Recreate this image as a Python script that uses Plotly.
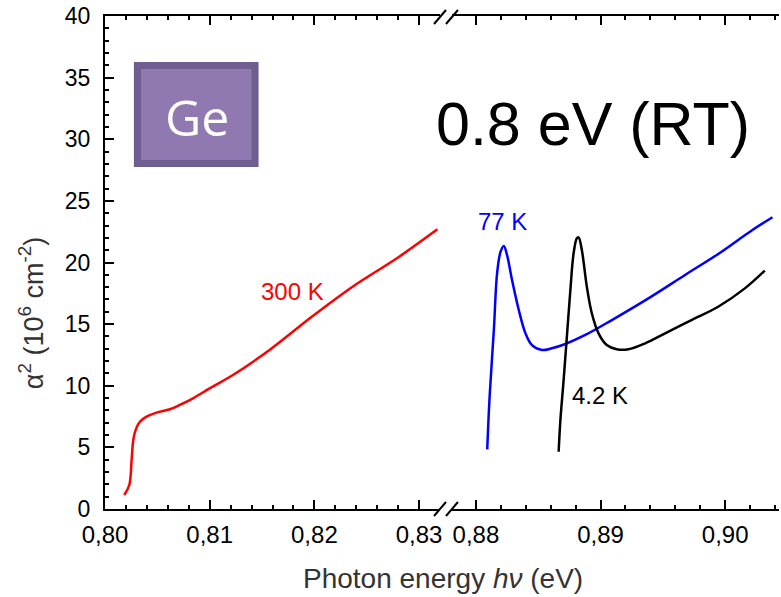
import plotly.graph_objects as go

# ---- data ----
x_300K = [0.80184, 0.80232, 0.80254, 0.80270, 0.80292, 0.80333, 0.80397, 0.80492,
          0.80619, 0.80714, 0.80841, 0.81000, 0.81222, 0.81571, 0.81984, 0.82365,
          0.82810, 0.83175]
y_300K = [1.14, 1.95, 3.98, 5.60, 6.40, 7.08, 7.49, 7.82,
          8.09, 8.44, 8.98, 9.79, 10.87, 12.90, 15.66, 18.04,
          20.47, 22.69]

x_77K = [0.88091, 0.88110, 0.88144, 0.88170, 0.88198, 0.88224, 0.88250, 0.88290,
         0.88344, 0.88398, 0.88450, 0.88530, 0.88610, 0.88718, 0.88878, 0.89091,
         0.89384, 0.89678, 0.89944, 0.90210, 0.90380]
y_77K = [4.84, 9.11, 14.52, 19.12, 20.88, 21.34, 20.60, 18.58,
         16.15, 14.25, 13.30, 12.90, 13.04, 13.39, 14.12, 15.33,
         17.09, 18.99, 20.69, 22.58, 23.67]

x_4K = [0.88664, 0.88678, 0.88704, 0.88730, 0.88758, 0.88784, 0.88810, 0.88824,
        0.88850, 0.88890, 0.88930, 0.88984, 0.89050, 0.89130, 0.89224, 0.89358,
        0.89518, 0.89730, 0.89944, 0.90158, 0.90318]
y_4K = [4.65, 7.22, 10.47, 13.98, 17.77, 20.75, 21.96, 22.04,
        21.01, 18.04, 15.88, 14.25, 13.30, 12.96, 12.96, 13.44,
        14.25, 15.33, 16.41, 17.90, 19.34]

left_ticks = [0.80, 0.81, 0.82, 0.83]
left_ticktext = ["0,80", "0,81", "0,82", "0,83"]
right_ticks = [0.88, 0.89, 0.90]
right_ticktext = ["0,88", "0,89", "0,90"]
y_ticks = [0, 5, 10, 15, 20, 25, 30, 35, 40]

# ---- geometry ----
W, H = 781, 597
ML, MR, MT, MB = 105, 0, 16, 88
PW, PH = W - ML - MR, H - MT - MB


def px(x):
    return (x - ML) / PW


def py(y):
    return (H - MB - y) / PH


left_end_px = 441
right_start_px = 453
FONT = "Liberation Sans, Arial, sans-serif"

fig = go.Figure()
fig.add_trace(go.Scatter(x=x_300K, y=y_300K, mode="lines", xaxis="x", yaxis="y",
                         line=dict(color="#ff0000", width=2.5), line_shape="spline"))
fig.add_trace(go.Scatter(x=x_77K, y=y_77K, mode="lines", xaxis="x2", yaxis="y",
                         line=dict(color="#0000ff", width=2.5), line_shape="spline"))
fig.add_trace(go.Scatter(x=x_4K, y=y_4K, mode="lines", xaxis="x2", yaxis="y",
                         line=dict(color="#000000", width=2.5), line_shape="spline"))

xtickfont = dict(family=FONT, size=24, color="black")
ytickfont = dict(family=FONT, size=23, color="black")
common_x = dict(showline=True, linecolor="black", linewidth=2, mirror="ticks",
                ticks="inside", ticklen=9, tickwidth=2, tickcolor="black",
                showgrid=False, zeroline=False, tickfont=xtickfont,
                ticklabelstandoff=3)

fig.update_layout(
    width=W, height=H,
    margin=dict(l=ML, r=MR, t=MT, b=MB),
    plot_bgcolor="white", paper_bgcolor="white",
    showlegend=False,
    xaxis=dict(domain=[0, px(left_end_px)],
               range=[0.80, 0.80 + (left_end_px - ML) / 10500],
               tickmode="array", tickvals=left_ticks, ticktext=left_ticktext,
               minor=dict(tick0=0.80, dtick=0.002, ticks="inside", ticklen=4,
                          tickwidth=2, tickcolor="black"),
               anchor="y", **common_x),
    xaxis2=dict(domain=[px(right_start_px), 1],
                range=[0.88 - (477 - right_start_px) / 12500, 0.88 + (W - 477) / 12500],
                tickmode="array", tickvals=right_ticks, ticktext=right_ticktext,
                minor=dict(tick0=0.88, dtick=0.002, ticks="inside", ticklen=4,
                           tickwidth=2, tickcolor="black"),
                anchor="y", **common_x),
    yaxis=dict(range=[0, 40], tickvals=y_ticks, showline=True, linecolor="black",
               linewidth=2, ticks="inside", ticklen=9, tickwidth=2, tickcolor="black",
               minor=dict(dtick=1, ticks="inside", ticklen=4, tickwidth=2,
                          tickcolor="black"),
               showgrid=False, zeroline=False, tickfont=ytickfont,
               ticklabelstandoff=8),
)

# break marks on bottom and top axes
shapes = []
for bx in (left_end_px, right_start_px):
    for by in (H - MB, MT + 1):
        shapes.append(dict(type="line", xref="paper", yref="paper",
                           x0=px(bx - 6), y0=py(by + 7), x1=px(bx + 6), y1=py(by - 7),
                           line=dict(color="black", width=2)))

# Ge box
shapes.append(dict(type="rect", xref="paper", yref="paper",
                   x0=px(137.5), x1=px(255.5), y0=py(163.5), y1=py(65.5),
                   fillcolor="#9079b0", line=dict(color="#6f5e8f", width=7)))
fig.update_layout(shapes=shapes)

C = dict(xanchor="center", yanchor="middle", showarrow=False)
ann = []
ann.append(dict(text="Ge", xref="paper", yref="paper", x=px(197), y=py(117),
                font=dict(family="Open Sans, sans-serif", size=50, color="white"), **C))
ann.append(dict(text="0.8 eV (RT)", xref="paper", yref="paper", x=px(594), y=py(124),
                font=dict(family=FONT, size=61, color="black"), **C))
ann.append(dict(text="300 K", xref="x", yref="y", x=0.81795, y=17.65,
                font=dict(family=FONT, size=24, color="#ff0000"), **C))
ann.append(dict(text="77 K", xref="x2", yref="y", x=0.88216, y=23.29,
                font=dict(family=FONT, size=24, color="#0000ff"), **C))
ann.append(dict(text="4.2 K", xref="x2", yref="y", x=0.88996, y=9.21,
                font=dict(family=FONT, size=24, color="black"), **C))
ann.append(dict(text="Photon energy <i>hν</i> (eV)", xref="paper", yref="paper",
                x=px(444), y=py(578),
                font=dict(family=FONT, size=28, color="#333333"), **C))
ann.append(dict(text="α<sup>2</sup> (10<sup>6</sup> cm<sup>-2</sup>)", xref="paper",
                yref="paper", x=px(31), y=py(313), textangle=-90,
                font=dict(family=FONT, size=27, color="#333333"), **C))
fig.update_layout(annotations=ann)

fig.write_html("out.html")
